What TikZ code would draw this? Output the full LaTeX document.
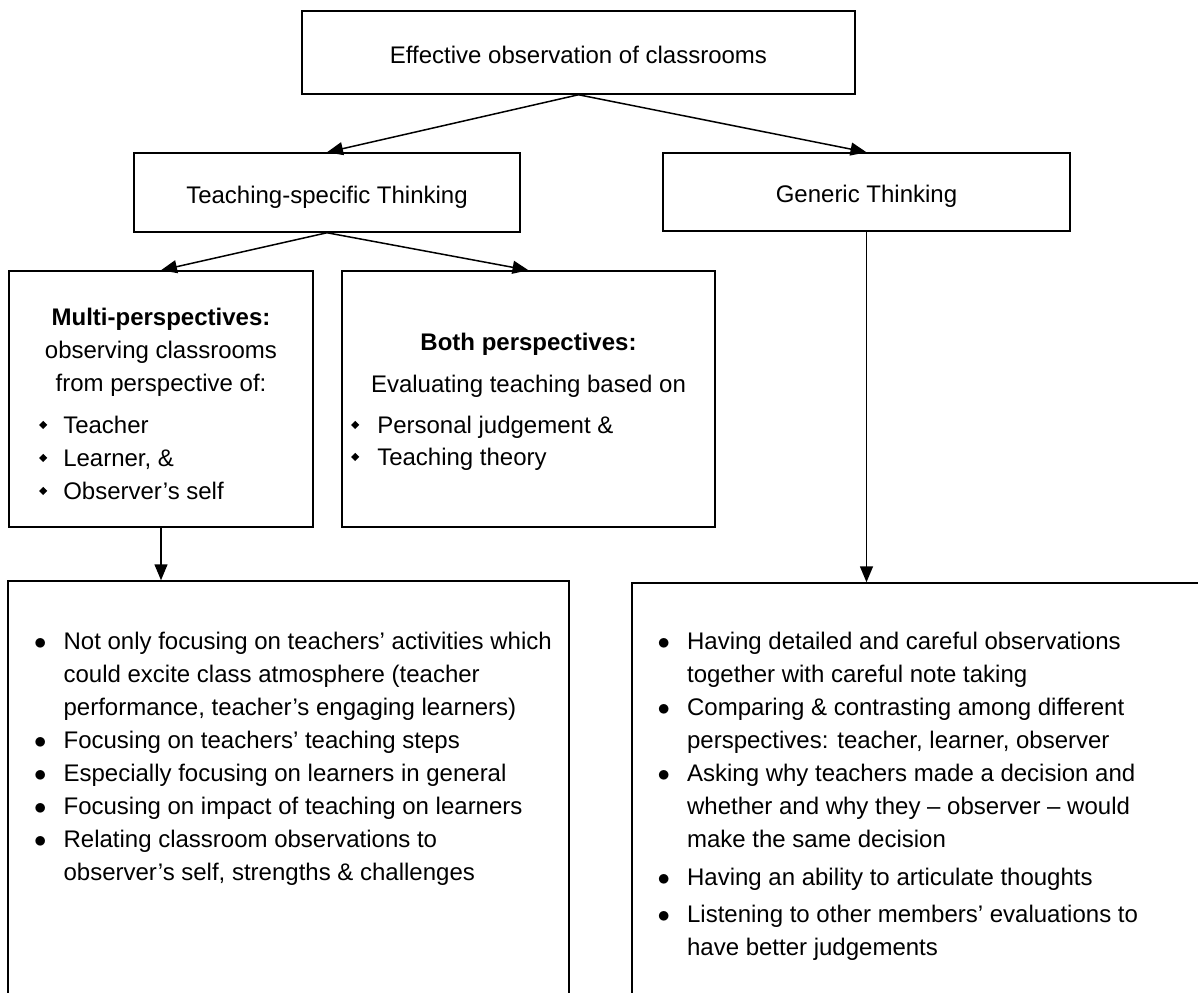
\documentclass[tikz,border=0pt]{standalone}
\usepackage{fontspec}
\setmainfont{Liberation Sans}
\usepackage{graphicx}
\usetikzlibrary{arrows.meta}
\newcommand{\dmd}{\raisebox{4bp}{\rotatebox{45}{\rule{5.7bp}{5.7bp}}}}
\newcommand{\bul}{$\bullet$}
\begin{document}
\begin{tikzpicture}[x=1bp, y=-1bp, font=\fontsize{24bp}{33bp}\selectfont,
  box/.style={draw, line width=1.5bp, inner sep=0pt, text height=21bp, text depth=0pt},
  txt/.style={inner sep=0pt},
  arr/.style={-{Triangle[length=16bp,width=13bp]}, line width=1.5bp}]
\useasboundingbox (0,0) rectangle (1198,993);
\clip (0,0) rectangle (1198,993);
% top level
\node[box, minimum width=553bp, minimum height=83bp] (eff) at (578.5,52.5) {Effective observation of classrooms};
\node[box, minimum width=386bp, minimum height=79bp] (ts) at (327,192.5) {Teaching-specific Thinking};
\node[box, minimum width=407bp, minimum height=78bp] (gen) at (866.5,192) {Generic Thinking};
\draw[arr] (eff.south) -- (ts.north);
\draw[arr] (eff.south) -- (gen.north);
% perspectives
\node[box, minimum width=304bp, minimum height=256bp] (multi) at (161,399) {};
\node[box, minimum width=373bp, minimum height=256bp] (both) at (528.5,399) {};
\draw[arr] (ts.south) -- (multi.north);
\draw[arr] (ts.south) -- (both.north);
\node[txt, anchor=base] (mhead) at (161,325) {\begin{tabular}[t]{@{}c@{}}
  \textbf{Multi-perspectives:}\\ observing classrooms\\ from perspective of:\end{tabular}};
\node[txt, anchor=base west] (mlist) at (39,433) {\begin{tabular}[t]{@{}l@{\hspace{16bp}}l@{}}
  \dmd & Teacher\\ \dmd & Learner, \&\\ \dmd & Observer’s self\end{tabular}};
\node[txt, anchor=base] (bhead) at (528.5,350) {\begin{tabular}[t]{@{}c@{}}
  \textbf{Both perspectives:}\\[9bp] Evaluating teaching based on\end{tabular}};
\node[txt, anchor=base west] (blist) at (351,433) {\begin{tabular}[t]{@{}l@{\hspace{18bp}}l@{}}
  \dmd & Personal judgement \&\\[-1bp] \dmd & Teaching theory\end{tabular}};
% bottom boxes
\node[box, minimum width=561bp, minimum height=429bp] (lbox) at (288.5,795.5) {};
\node[box, minimum width=598bp, minimum height=427bp] (rbox) at (931,796.5) {};
\draw[arr] (multi.south) -- (multi.south |- lbox.north);
\draw[arr] (gen.south) -- (gen.south |- rbox.north);
\node[txt, anchor=base west] (llist) at (34,649) {\begin{tabular}[t]{@{}l@{\hspace{17bp}}l@{}}
  \bul & Not only focusing on teachers’ activities which\\
       & could excite class atmosphere (teacher\\
       & performance, teacher’s engaging learners)\\
  \bul & Focusing on teachers’ teaching steps\\
  \bul & Especially focusing on learners in general\\
  \bul & Focusing on impact of teaching on learners\\
  \bul & Relating classroom observations to\\
       & observer’s self, strengths \& challenges\end{tabular}};
\node[txt, anchor=base west] (rlist) at (657.5,649) {\begin{tabular}[t]{@{}l@{\hspace{17bp}}l@{}}
  \bul & Having detailed and careful observations\\
       & together with careful note taking\\
  \bul & Comparing \& contrasting among different\\
       & perspectives: teacher, learner, observer\\
  \bul & Asking why teachers made a decision and\\
       & whether and why they – observer – would\\
       & make the same decision\\[5bp]
  \bul & Having an ability to articulate thoughts\\[4bp]
  \bul & Listening to other members’ evaluations to\\
       & have better judgements\end{tabular}};
\end{tikzpicture}
\end{document}
